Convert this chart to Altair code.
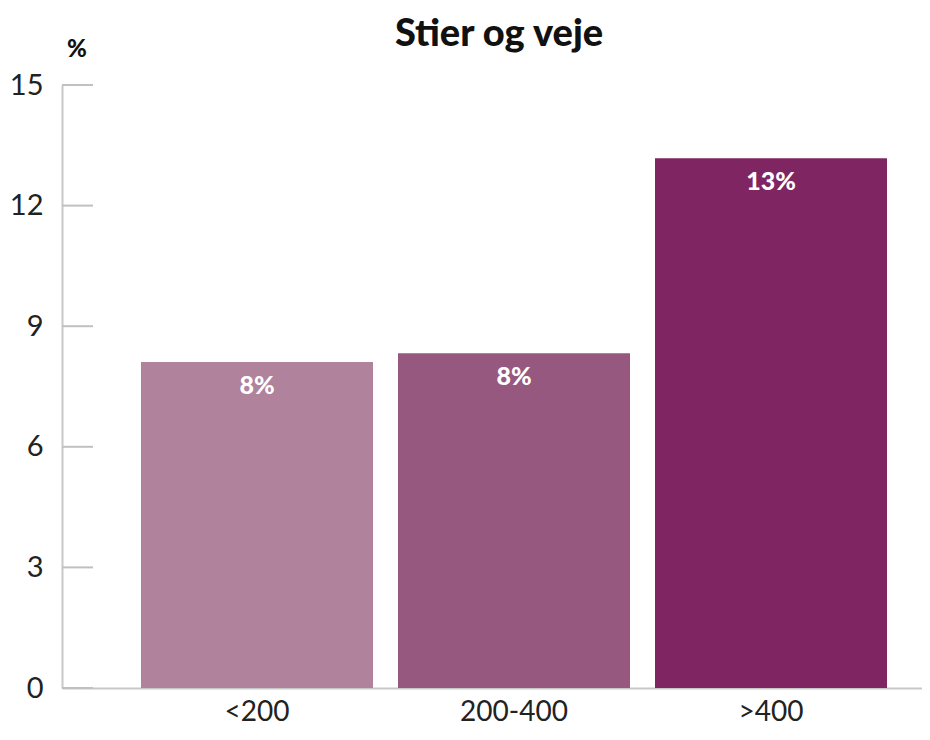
import altair as alt
import pandas as pd

categories = ["<200", "200-400", ">400"]
values = [8.11, 8.33, 13.18]
labels = ["8%", "8%", "13%"]
colors = ["#b0829c", "#96587e", "#7e2562"]
y_ticks = [0, 3, 6, 9, 12, 15]
title_text = "Stier og veje"

df = pd.DataFrame({"cat": categories, "val": values, "lab": labels})
ticks_df = pd.DataFrame({"t": y_ticks})

FONT = "Lato"

x_enc = alt.X("cat:N", sort=categories,
              scale=alt.Scale(paddingInner=0.0973, paddingOuter=0.2218, align=0.693),
              axis=alt.Axis(title=None, labelAngle=0, labelFontSize=28, labelColor="#222222",
                            labelFont=FONT, ticks=False, labelPadding=10,
                            domainColor="#c8c8c8", domainWidth=2))
y_scale = alt.Scale(domain=[0, 15], nice=False)

bars = alt.Chart(df).mark_bar().encode(
    x=x_enc,
    y=alt.Y("val:Q", scale=y_scale,
            axis=alt.Axis(title=None, values=y_ticks, labelFontSize=29, labelColor="#222222",
                          labelFont=FONT, ticks=False, grid=False, labelPadding=19,
                          domainColor="#c8c8c8", domainWidth=2)),
    color=alt.Color("cat:N", sort=categories,
                    scale=alt.Scale(domain=categories, range=colors), legend=None),
)

text = alt.Chart(df).mark_text(color="white", fontSize=25, fontWeight=900, font=FONT,
                               baseline="middle", dy=24).encode(
    x=alt.X("cat:N", sort=categories),
    y=alt.Y("val:Q", scale=y_scale),
    text="lab:N",
)

tick_rules = alt.Chart(ticks_df).mark_rule(color="#c0c0c0", strokeWidth=2).encode(
    y=alt.Y("t:Q", scale=y_scale),
    x=alt.value(0),
    x2=alt.value(31),
)

pct = alt.Chart(pd.DataFrame({"s": ["%"]})).mark_text(
    fontSize=24, fontWeight=900, font=FONT, color="#111111", align="center", baseline="middle"
).encode(x=alt.value(15), y=alt.value(-35), text="s:N")

title = alt.Chart(pd.DataFrame({"s": [title_text]})).mark_text(
    fontSize=38, fontWeight=900, font=FONT, color="#111111", align="center", baseline="alphabetic"
).encode(x=alt.value(437), y=alt.value(-39), text="s:N")

chart = alt.layer(bars, tick_rules, text, pct, title).properties(
    width=860,
    height=603,
    autosize=alt.AutoSizeParams(type="none"),
    padding={"left": 54, "top": 77, "right": 0, "bottom": 39},
).configure_view(stroke=None)

chart.save("out.html", embed_options={"renderer": "svg", "actions": False})
